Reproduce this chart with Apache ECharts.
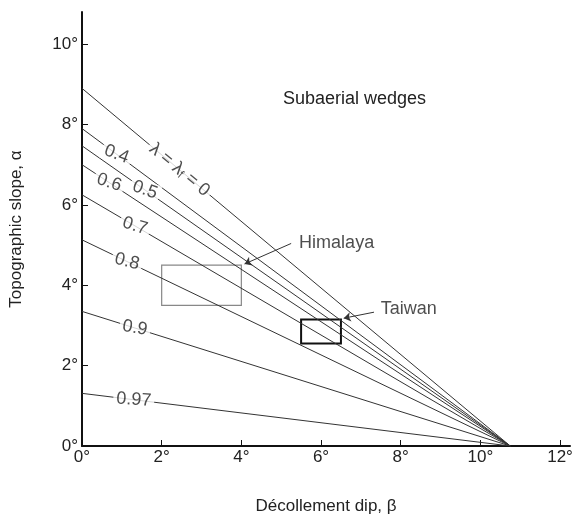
<!DOCTYPE html>
<html>
<head>
<meta charset="utf-8">
<script src="https://cdn.jsdelivr.net/npm/echarts@6/dist/echarts.min.js"></script>
<style>
  html, body { margin: 0; padding: 0; background: #fff; }
  #chart { width: 579px; height: 526px; }
</style>
</head>
<body>
<div id="chart"></div>
<script>
// λ values and the topographic slope each line starts at (β = 0)
const lambdas = ['0', '0.4', '0.5', '0.6', '0.7', '0.8', '0.9', '0.97'];
const alphaAtZero = [8.9, 7.9, 7.47, 7.0, 6.25, 5.13, 3.35, 1.31];
// all lines meet the β axis here
const betaEnd = 10.75;
// β where each line's label sits
const labelAt = [2.45, 0.87, 1.58, 0.68, 1.33, 1.13, 1.33, 1.3];

const xTicks = [0, 2, 4, 6, 8, 10, 12];
const yTicks = [0, 2, 4, 6, 8, 10];

// observed boxes [βmin, βmax, αmin, αmax]
const himalaya = [2, 4, 3.5, 4.5];
const taiwan = [5.5, 6.5, 2.55, 3.15];

const font = '"Liberation Sans", Arial, sans-serif';
const pxPerDegX = 40, pxPerDegY = 40.2;

let chart = echarts.init(document.getElementById('chart'));

let lineSeries = lambdas.map((l, i) => ({
    name: 'λ=' + l,
    type: 'line',
    symbol: 'none',
    silent: true,
    lineStyle: { color: '#333', width: 1 },
    data: [[0, alphaAtZero[i]], [betaEnd, 0]],
    z: 2
}));

let labelData = lambdas.map((l, i) => {
    let b = labelAt[i];
    let a = alphaAtZero[i] * (1 - b / betaEnd);
    let ang = Math.atan((alphaAtZero[i] * pxPerDegY) / (betaEnd * pxPerDegX)) * 180 / Math.PI;
    let isMain = i === 0;
    return {
        value: [b, a],
        label: {
            rotate: isMain ? -ang : -ang * 0.55,
            formatter: isMain ? '{a|λ = λ}{s|f}{a| = 0}' : l
        }
    };
});

let option = {
    animation: false,
    backgroundColor: '#fff',
    grid: { left: 80, right: 9, top: 12, bottom: 80 },
    xAxis: {
        type: 'value',
        min: 0,
        max: 12.25,
        interval: 2,
        splitLine: { show: false },
        axisLine: { onZero: false, lineStyle: { color: '#111', width: 2 } },
        axisTick: { inside: true, length: 6, customValues: xTicks, lineStyle: { color: '#111' } },
        axisLabel: {
            customValues: xTicks,
            formatter: v => v + '°',
            color: '#222', fontSize: 17, fontFamily: font, margin: 3
        },
        name: 'Décollement dip, β',
        nameLocation: 'middle',
        nameGap: 52,
        nameTextStyle: { color: '#222', fontSize: 17, fontFamily: font }
    },
    yAxis: {
        type: 'value',
        min: 0,
        max: 10.8,
        interval: 2,
        splitLine: { show: false },
        axisLine: { onZero: false, lineStyle: { color: '#111', width: 2 } },
        axisTick: { inside: true, length: 6, customValues: yTicks, lineStyle: { color: '#111' } },
        axisLabel: {
            customValues: yTicks,
            formatter: v => v + '°',
            color: '#222', fontSize: 17, fontFamily: font, margin: 4
        },
        name: 'Topographic slope, α',
        nameLocation: 'middle',
        nameGap: 57,
        nameTextStyle: { color: '#222', fontSize: 17, fontFamily: font }
    },
    graphic: [
        {
            type: 'text',
            left: 283,
            top: 90,
            style: { text: 'Subaerial wedges', fill: '#222', font: '18px ' + font }
        }
    ],
    series: [
        ...lineSeries,
        {
            type: 'scatter',
            symbolSize: 0,
            silent: true,
            z: 5,
            label: {
                show: true,
                position: 'inside',
                color: '#222',
                fontSize: 18,
                fontFamily: font,
                backgroundColor: '#fff',
                padding: [0, 3],
                rich: {
                    a: { fontSize: 18, fontFamily: font, color: '#222' },
                    s: { fontSize: 12, fontFamily: font, color: '#222', verticalAlign: 'bottom', padding: [7, 0, 0, 0] }
                }
            },
            data: labelData
        },
        {
            type: 'line',
            data: [],
            silent: true,
            markArea: {
                silent: true,
                data: [
                    [
                        { coord: [himalaya[0], himalaya[3]], itemStyle: { color: '#fff', borderColor: '#888', borderWidth: 1.2 } },
                        { coord: [himalaya[1], himalaya[2]] }
                    ],
                    [
                        { coord: [taiwan[0], taiwan[3]], itemStyle: { color: '#fff', borderColor: '#111', borderWidth: 2 } },
                        { coord: [taiwan[1], taiwan[2]] }
                    ]
                ]
            },
            markLine: {
                silent: true,
                symbol: ['none', 'arrow'],
                symbolSize: 7,
                lineStyle: { color: '#333', width: 1, type: 'solid' },
                label: { show: false },
                data: [
                    [{ coord: [5.25, 5.04] }, { coord: [himalaya[1] + 0.08, himalaya[3] + 0.03] }],
                    [{ coord: [7.33, 3.33] }, { coord: [taiwan[1] + 0.07, taiwan[3] + 0.03] }]
                ]
            },
            z: 4
        },
        {
            type: 'scatter',
            symbolSize: 0,
            silent: true,
            label: {
                show: true,
                position: 'right',
                distance: 2,
                formatter: p => p.name,
                color: '#222',
                fontSize: 18,
                fontFamily: font
            },
            data: [
                { name: 'Himalaya', value: [5.4, 5.06] },
                { name: 'Taiwan', value: [7.45, 3.4] }
            ]
        }
    ]
};
option && chart.setOption(option);
</script>
</body>
</html>
